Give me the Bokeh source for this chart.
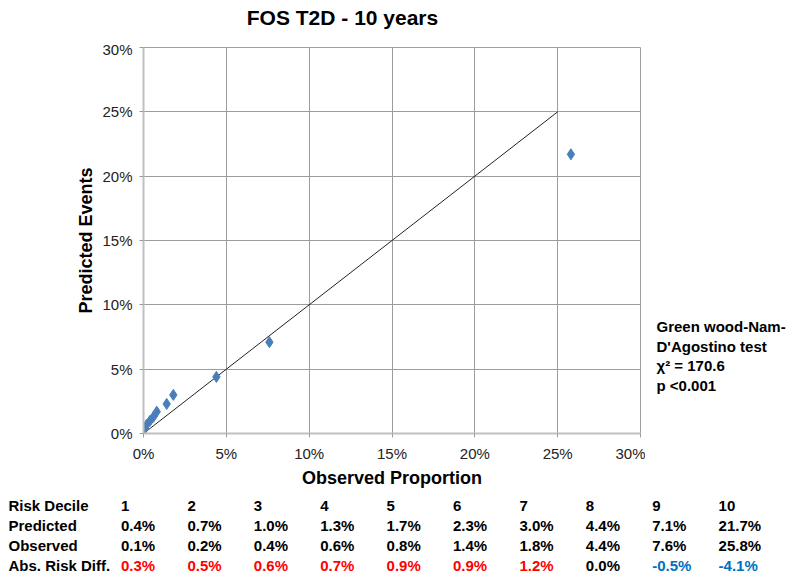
from bokeh.plotting import figure
from bokeh.layouts import column, row
from bokeh.models import (Range1d, FixedTicker, PrintfTickFormatter,
                          ColumnDataSource)
from bokeh.core.properties import value
from bokeh.embed import file_html
from bokeh.resources import INLINE

# ---------------- data ----------------
title_text = "FOS T2D - 10 years"
x_label = "Observed Proportion"
y_label = "Predicted Events"
deciles = [1, 2, 3, 4, 5, 6, 7, 8, 9, 10]
predicted = [0.4, 0.7, 1.0, 1.3, 1.7, 2.3, 3.0, 4.4, 7.1, 21.7]
observed = [0.1, 0.2, 0.4, 0.6, 0.8, 1.4, 1.8, 4.4, 7.6, 25.8]
abs_diff = [0.3, 0.5, 0.6, 0.7, 0.9, 0.9, 1.2, 0.0, -0.5, -4.1]
ref_line_x = [0, 25]
ref_line_y = [0, 25]
axis_ticks = [0, 5, 10, 15, 20, 25, 30]
row_names = ["Risk Decile", "Predicted", "Observed", "Abs. Risk Diff."]
test_lines = ["Green wood-Nam-", "D'Agostino test", "\u03c7\u00b2 = 170.6", "p <0.001"]

FONT = "Liberation Sans"

# ---------------- layout sizes (page pixels) ----------------
TOTAL_W = 800
TITLE_H = 40
MAIN_W, MAIN_BOTTOM = 645, 490
MAIN_H = MAIN_BOTTOM - TITLE_H
SIDE_W = TOTAL_W - MAIN_W
TABLE_H = 88
FRAME_TOP, FRAME_BOTTOM = 47, 434


def text_strip(width, height, x0, y0):
    """A frame-only figure whose data coordinates equal page pixels."""
    f = figure(width=width, height=height,
               x_range=Range1d(x0, x0 + width),
               y_range=Range1d(y0 + height, y0),
               output_backend="svg", toolbar_location=None,
               x_axis_type=None, y_axis_type=None, min_border=0)
    f.outline_line_color = None
    f.xgrid.visible = False
    f.ygrid.visible = False
    return f


# ---------------- title strip ----------------
title_fig = text_strip(TOTAL_W, TITLE_H, 0, 0)
title_fig.text(x=[342], y=[17], text=[title_text], text_font=value(FONT),
               text_font_style="bold", text_font_size="21px",
               text_align="center", text_baseline="middle",
               text_color="black")

# ---------------- main chart ----------------
p = figure(width=MAIN_W, height=MAIN_H, x_range=Range1d(0, 30),
           y_range=Range1d(0, 30), output_backend="svg", toolbar_location=None,
           min_border_left=143, min_border_right=5,
           min_border_top=FRAME_TOP - TITLE_H,
           min_border_bottom=MAIN_BOTTOM - FRAME_BOTTOM)
p.background_fill_color = "white"
p.border_fill_color = "white"
p.outline_line_color = "#a0a0a0"

grid_col = "#9c9c9c"
for ax in (p.xaxis[0], p.yaxis[0]):
    ax.ticker = FixedTicker(ticks=axis_ticks)
    ax.formatter = PrintfTickFormatter(format="%d%%")
    ax.minor_tick_line_color = None
    ax.major_tick_in = 0
    ax.major_tick_out = 4
    ax.major_tick_line_color = grid_col
    ax.axis_line_color = "#c0c0c0"
    ax.axis_line_width = 2
    ax.major_label_text_font = FONT
    ax.major_label_text_font_size = "15px"
    ax.major_label_text_color = "#222222"
    ax.major_label_standoff = 7
    ax.axis_label_text_font = FONT
    ax.axis_label_text_font_style = "bold"
    ax.axis_label_text_font_size = "18px"
    ax.axis_label_text_color = "black"
    ax.axis_label_standoff = 3
p.xaxis[0].axis_label = x_label
p.yaxis[0].axis_label = y_label

p.xgrid.ticker = FixedTicker(ticks=axis_ticks)
p.ygrid.ticker = FixedTicker(ticks=axis_ticks)
p.xgrid.grid_line_color = grid_col
p.ygrid.grid_line_color = grid_col

p.line(ref_line_x, ref_line_y, line_color="#222222", line_width=1)
p.scatter(observed, predicted, marker="diamond", size=11,
          fill_color="#4a7ebb", line_color="#4a7ebb")

# ---------------- side annotation (page pixel coordinates) ----------------
side = figure(width=SIDE_W, height=MAIN_H,
              x_range=Range1d(MAIN_W, TOTAL_W),
              y_range=Range1d(FRAME_BOTTOM, FRAME_TOP),
              output_backend="svg", toolbar_location=None,
              x_axis_type=None, y_axis_type=None,
              min_border_left=0, min_border_right=0,
              min_border_top=FRAME_TOP - TITLE_H,
              min_border_bottom=MAIN_BOTTOM - FRAME_BOTTOM)
side.outline_line_color = None
side.xgrid.visible = False
side.ygrid.visible = False
side_src = ColumnDataSource(dict(
    x=[656] * len(test_lines),
    y=[327 + 19.5 * i for i in range(len(test_lines))],
    text=test_lines))
side.text(x="x", y="y", text="text", source=side_src,
          text_font=value(FONT), text_font_style="bold",
          text_font_size="15px", text_align="left",
          text_baseline="middle", text_color="black")

# ---------------- table (page pixel coordinates) ----------------
table = text_strip(TOTAL_W, TABLE_H, 0, MAIN_BOTTOM)

row_y = [505, 525, 545, 565]
col_x0, col_dx = 120.5, 66.4


def diff_color(d):
    if d > 0:
        return "#ff0000"
    if d < 0:
        return "#0070c0"
    return "black"


tx, ty, tt, tc = [], [], [], []
for r, name in enumerate(row_names):
    tx.append(8)
    ty.append(row_y[r])
    tt.append(name)
    tc.append("black")
for i in range(len(deciles)):
    cx = col_x0 + col_dx * i
    cells = [(str(deciles[i]), "black"),
             ("%.1f%%" % predicted[i], "black"),
             ("%.1f%%" % observed[i], "black"),
             ("%.1f%%" % abs_diff[i], diff_color(abs_diff[i]))]
    for r, (txt, col) in enumerate(cells):
        tx.append(cx)
        ty.append(row_y[r])
        tt.append(txt)
        tc.append(col)
tsrc = ColumnDataSource(dict(x=tx, y=ty, text=tt, color=tc))
table.text(x="x", y="y", text="text", source=tsrc, text_color="color",
           text_font=value(FONT), text_font_style="bold",
           text_font_size="15px", text_align="left", text_baseline="middle")

layout = column(title_fig, row(p, side, spacing=0), table, spacing=0)
open("out.html", "w").write(file_html(layout, INLINE))
